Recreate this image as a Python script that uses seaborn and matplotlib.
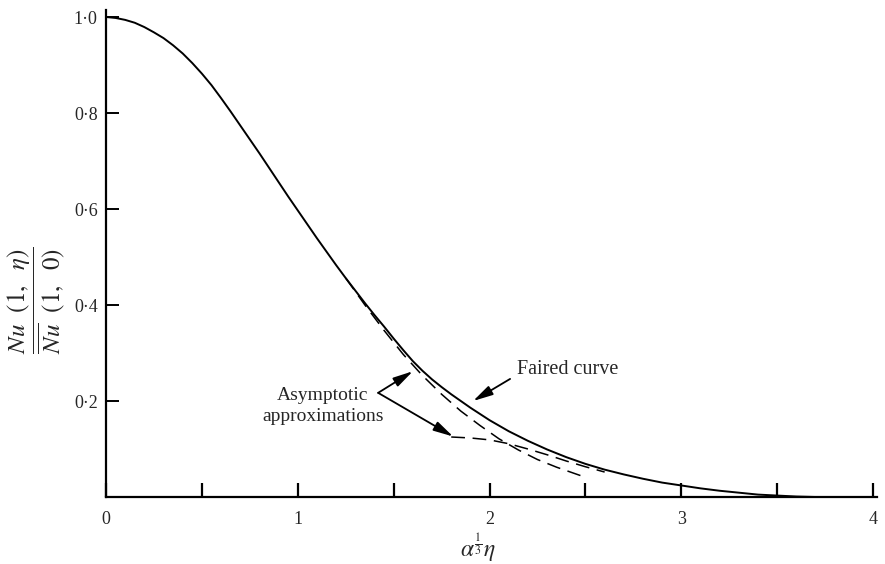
import matplotlib
matplotlib.use("Agg")
import matplotlib.pyplot as plt
import seaborn as sns
import pandas as pd

# ---- data ----
faired_x = [0, 0.05, 0.1, 0.15, 0.2, 0.25, 0.3, 0.35, 0.4, 0.45, 0.5, 0.55, 0.6, 0.65,
            0.7, 0.75, 0.8, 0.85, 0.9, 0.95, 1.0, 1.05, 1.1, 1.15, 1.2, 1.25, 1.3, 1.35,
            1.4, 1.45, 1.5, 1.55, 1.6, 1.65, 1.7, 1.75, 1.8, 1.85, 1.9, 1.95, 2.0, 2.1,
            2.2, 2.3, 2.4, 2.5, 2.6, 2.7, 2.8, 2.9, 3.0, 3.1, 3.2, 3.3, 3.4, 3.5, 3.6,
            3.7, 3.8, 4.0]
faired_y = [1.000, 0.998, 0.994, 0.988, 0.979, 0.968, 0.956, 0.941, 0.924, 0.904, 0.882,
            0.858, 0.831, 0.803, 0.774, 0.745, 0.716, 0.686, 0.656, 0.626, 0.597, 0.568,
            0.539, 0.511, 0.483, 0.456, 0.430, 0.404, 0.379, 0.355, 0.330, 0.306, 0.283,
            0.263, 0.245, 0.229, 0.214, 0.200, 0.186, 0.173, 0.160, 0.137, 0.117, 0.099,
            0.083, 0.069, 0.057, 0.047, 0.038, 0.030, 0.024, 0.018, 0.013, 0.009, 0.005,
            0.003, 0.001, 0.0, 0.0, 0.0]

asym1_x = [1.25, 1.35, 1.45, 1.55, 1.65, 1.75, 1.85, 1.95, 2.05, 2.15, 2.25, 2.35, 2.45, 2.5]
asym1_y = [0.456, 0.400, 0.347, 0.297, 0.253, 0.214, 0.179, 0.149, 0.121, 0.098, 0.078,
           0.062, 0.048, 0.041]

asym2_x = [1.8, 1.9, 2.0, 2.1, 2.2, 2.3, 2.4, 2.5, 2.6]
asym2_y = [0.125, 0.123, 0.119, 0.111, 0.100, 0.088, 0.075, 0.063, 0.052]

xtick_major = [0, 1, 2, 3, 4]
xtick_labels = ["0", "1", "2", "3", "4"]
xtick_minor = [0.5, 1.5, 2.5, 3.5]
ytick_vals = [0.2, 0.4, 0.6, 0.8, 1.0]
ytick_labels = ["0·2", "0·4", "0·6", "0·8", "1·0"]

# ---- styling ----
sns.set_theme(style="ticks")
plt.rcParams["font.family"] = ["Liberation Serif", "DejaVu Serif"]
plt.rcParams["mathtext.fontset"] = "stix"

W, H = 885, 564
fig = plt.figure(figsize=(W / 100, H / 100), dpi=100)
ax = fig.add_axes([106 / W, 1 - 497 / H, (877 - 106) / W, (497 - 10) / H])

df_f = pd.DataFrame({"x": faired_x, "y": faired_y})
df_a1 = pd.DataFrame({"x": asym1_x, "y": asym1_y})
df_a2 = pd.DataFrame({"x": asym2_x, "y": asym2_y})

sns.lineplot(data=df_f, x="x", y="y", ax=ax, color="black", lw=1.4,
             estimator=None, sort=False)
sns.lineplot(data=df_a1, x="x", y="y", ax=ax, color="black", lw=1.1,
             estimator=None, sort=False, linestyle=(0, (9, 5)))
sns.lineplot(data=df_a2, x="x", y="y", ax=ax, color="black", lw=1.1,
             estimator=None, sort=False, linestyle=(0, (9, 5)))

ax.set_xlim(0, 4.02)
ax.set_ylim(0, (497 - 10) / 480)

ax.set_xticks(xtick_major)
ax.set_xticklabels(xtick_labels)
ax.set_xticks(xtick_minor, minor=True)
ax.set_yticks(ytick_vals)
ax.set_yticklabels(ytick_labels)

ax.tick_params(axis="x", which="both", direction="in", length=10, width=1.6,
               labelsize=13, pad=10, color="black")
ax.tick_params(axis="y", which="both", direction="in", length=9, width=1.4,
               labelsize=13, pad=6, color="black")
ax.set_xlabel("")
ax.set_ylabel("")

for s in ["top", "right"]:
    ax.spines[s].set_visible(False)
for s in ["left", "bottom"]:
    ax.spines[s].set_linewidth(1.6)
    ax.spines[s].set_color("black")

# axis labels
fig.text(478 / W, 1 - 548 / H, r"$\alpha^{\frac{1}{3}}\eta$", ha="center", va="center",
         fontsize=17)
fig.text(36 / W, 1 - 300 / H,
         r"$\dfrac{Nu\ \ (1,\ \ \eta)}{\overline{Nu}\ \ (1,\ \ 0)}$",
         ha="center", va="center", rotation=90, fontsize=18)

# annotations
arrow_kw = dict(arrowstyle="-|>,head_length=1.0,head_width=0.25", color="black",
                lw=1.3, shrinkA=0, shrinkB=0)
ax.text(2.143, 0.265, "Faired curve", ha="left", va="center", fontsize=14.5)
ax.annotate("", xy=(1.914, 0.200), xytext=(2.107, 0.246), arrowprops=arrow_kw)

ax.text(1.13, 0.19, "Asymptotic\napproximations", ha="center", va="center",
        fontsize=14, linespacing=1.3)
ax.annotate("", xy=(1.60, 0.262), xytext=(1.419, 0.217), arrowprops=arrow_kw)
ax.annotate("", xy=(1.81, 0.126), xytext=(1.419, 0.217), arrowprops=arrow_kw)

fig.savefig("out.png", dpi=100)
